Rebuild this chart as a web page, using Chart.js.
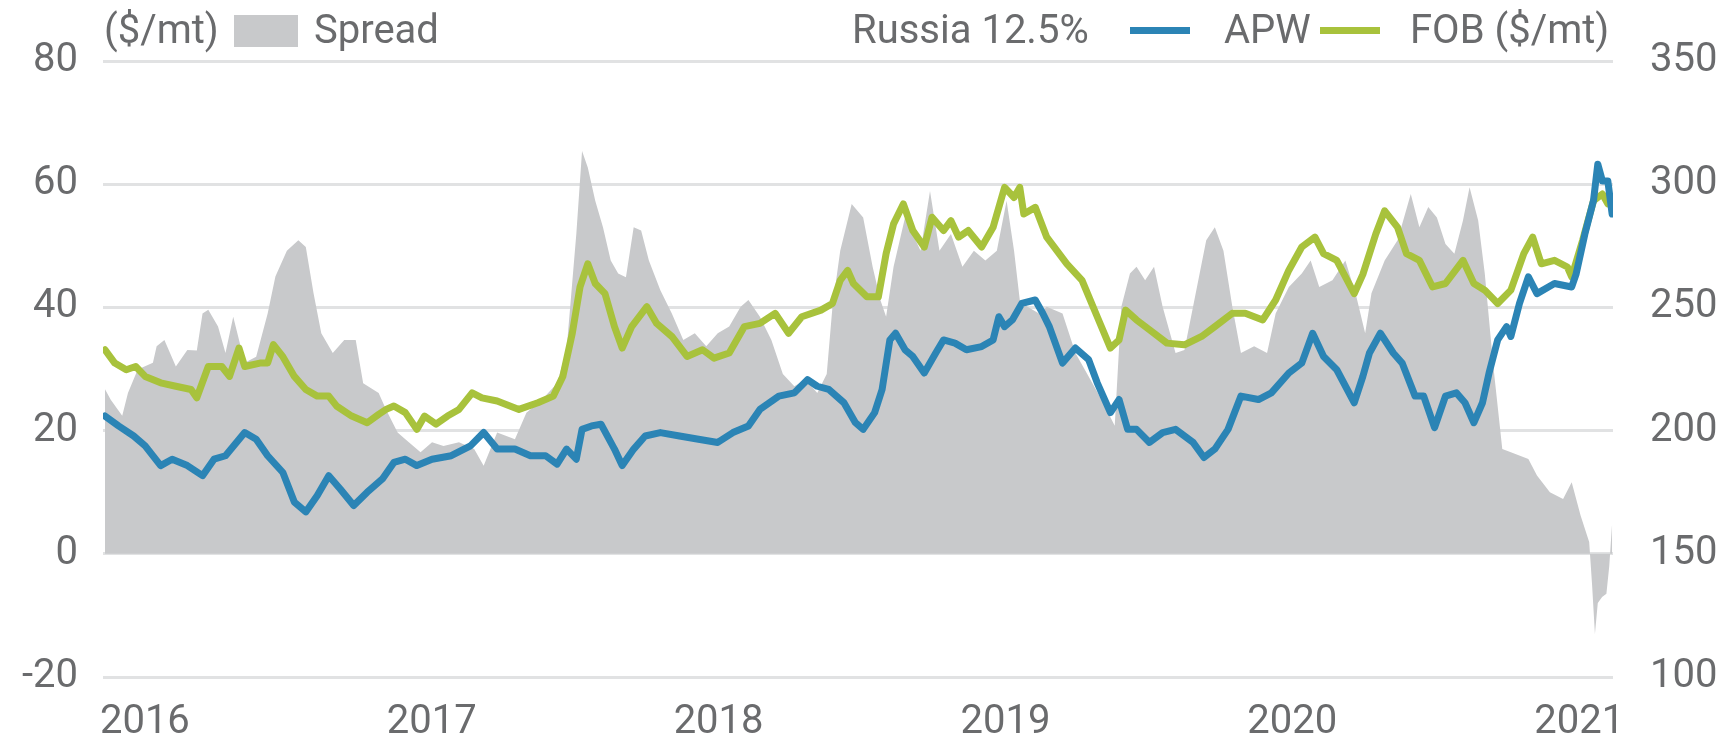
<!DOCTYPE html>
<html>
<head>
<meta charset="utf-8">
<script src="https://cdn.jsdelivr.net/npm/chart.js"></script>
<style>
  body { margin: 0; background: #fff; }
  #wrap { position: relative; width: 1733px; height: 737px; font-family: Roboto, sans-serif; color: #6a6b6d; }
  #myChart { position: absolute; left: 0; top: 0; }
  .lg { position: absolute; top: 8px; font-size: 40px; line-height: 44px; white-space: nowrap; }
  .sw { position: absolute; }
</style>
</head>
<body>
<div id="wrap">
  <canvas id="myChart" width="1733" height="737"></canvas>
  <span class="lg" style="left:104px">($/mt)</span>
  <span class="sw" style="left:234px;top:15px;width:64px;height:32px;background:#c8c9cb"></span>
  <span class="lg" style="left:314px">Spread</span>
  <span class="lg" style="left:852px">Russia 12.5%</span>
  <span class="sw" style="left:1130px;top:27px;width:60px;height:7px;background:#2b84b5"></span>
  <span class="lg" style="left:1224px">APW</span>
  <span class="sw" style="left:1320px;top:27px;width:60px;height:7px;background:#a8c23c"></span>
  <span class="lg" style="left:1410px">FOB ($/mt)</span>
</div>
<script>
const yearTicks = [2016, 2017, 2018, 2019, 2020, 2021];

const spreadDates = [2015.861, 2015.881, 2015.921, 2015.941, 2015.975, 2016.028, 2016.041, 2016.068, 2016.108, 2016.148,
  2016.181, 2016.201, 2016.221, 2016.255, 2016.281, 2016.308, 2016.348, 2016.388, 2016.428, 2016.455,
  2016.495, 2016.535, 2016.561, 2016.588, 2016.615, 2016.655, 2016.695, 2016.735, 2016.761, 2016.815,
  2016.841, 2016.881, 2016.908, 2016.961, 2017.001, 2017.041, 2017.095, 2017.148, 2017.181, 2017.228,
  2017.290, 2017.330, 2017.384, 2017.437, 2017.470, 2017.504, 2017.524, 2017.544, 2017.570, 2017.597,
  2017.624, 2017.650, 2017.677, 2017.704, 2017.730, 2017.757, 2017.797, 2017.837, 2017.877, 2017.917,
  2017.957, 2017.997, 2018.037, 2018.077, 2018.104, 2018.144, 2018.184, 2018.224, 2018.264, 2018.304,
  2018.344, 2018.377, 2018.397, 2018.424, 2018.464, 2018.504, 2018.537, 2018.564, 2018.584, 2018.610,
  2018.650, 2018.677, 2018.704, 2018.737, 2018.770, 2018.810, 2018.850, 2018.890, 2018.930, 2018.970,
  2019.004, 2019.030, 2019.050, 2019.077, 2019.117, 2019.144, 2019.199, 2019.244, 2019.290, 2019.335,
  2019.381, 2019.404, 2019.434, 2019.457, 2019.487, 2019.518, 2019.548, 2019.593, 2019.624, 2019.654,
  2019.700, 2019.730, 2019.760, 2019.791, 2019.821, 2019.867, 2019.912, 2019.942, 2019.988, 2020.033,
  2020.064, 2020.094, 2020.140, 2020.185, 2020.223, 2020.254, 2020.276, 2020.322, 2020.367, 2020.413,
  2020.443, 2020.474, 2020.504, 2020.534, 2020.565, 2020.595, 2020.618, 2020.648, 2020.671, 2020.701,
  2020.732, 2020.762, 2020.823, 2020.853, 2020.898, 2020.944, 2020.974, 2021.005, 2021.035, 2021.045,
  2021.055, 2021.065, 2021.080, 2021.095, 2021.105, 2021.115];
const spreadValues = [26.7, 25, 22.4, 26.1, 29.9, 31, 33.7, 34.7, 30.4, 33.1,
  33, 39, 39.6, 36.9, 32.6, 38.5, 31, 32, 39, 45,
  49.2, 50.9, 49.8, 42.3, 35.8, 32.6, 34.7, 34.7, 27.7, 26.1,
  23.4, 19.7, 18.6, 16.5, 18.1, 17.5, 18.1, 17, 14.3, 19.7,
  18.6, 22.9, 25, 27.7, 33.1, 51.9, 65.4, 62.7, 57.3, 53,
  47.6, 45.5, 44.9, 53, 52.5, 47.6, 42.8, 39, 34.7, 35.8,
  33.7, 35.8, 36.9, 40.1, 41.2, 38.5, 34.7, 29.2, 27.2, 28.3,
  26.1, 29.2, 40.1, 49.2, 56.8, 54.6, 46.6, 41.2, 38.5, 46.6,
  54.6, 51.9, 49.2, 58.9, 49.2, 51.9, 46.6, 49.2, 47.6, 49.2,
  57.3, 49.2, 41.2, 40.1, 39, 40.1, 39, 32.6, 28.8, 25,
  20.8, 40.1, 45.5, 46.6, 44.4, 46.6, 40.1, 32.6, 33.1, 40.1,
  50.9, 53, 49.2, 40.1, 32.6, 33.7, 32.6, 39, 43.3, 45.5,
  47.6, 43.3, 44.4, 47.6, 41.8, 35.8, 42.3, 47.6, 50.9, 58.4,
  53, 56.3, 54.6, 50.3, 48.7, 54.1, 59.5, 54.1, 45.5, 30.4,
  17, 16.5, 15.4, 12.7, 10, 8.9, 11.6, 6.2, 1.9, -5,
  -13, -8, -7, -6.5, -2, 5];

const fobDates = [2015.861, 2015.895, 2015.935, 2015.968, 2016.001, 2016.055, 2016.108, 2016.161, 2016.181, 2016.221,
  2016.268, 2016.295, 2016.328, 2016.348, 2016.401, 2016.428, 2016.448, 2016.481, 2016.521, 2016.561,
  2016.601, 2016.641, 2016.668, 2016.721, 2016.775, 2016.815, 2016.841, 2016.868, 2016.908, 2016.948,
  2016.975, 2017.015, 2017.055, 2017.095, 2017.141, 2017.175, 2017.228, 2017.304, 2017.370, 2017.424,
  2017.457, 2017.490, 2017.517, 2017.544, 2017.570, 2017.604, 2017.637, 2017.664, 2017.697, 2017.750,
  2017.784, 2017.837, 2017.890, 2017.944, 2017.984, 2018.037, 2018.090, 2018.144, 2018.197, 2018.244,
  2018.290, 2018.357, 2018.397, 2018.424, 2018.450, 2018.470, 2018.517, 2018.557, 2018.584, 2018.610,
  2018.644, 2018.677, 2018.717, 2018.744, 2018.784, 2018.810, 2018.837, 2018.870, 2018.917, 2018.957,
  2018.997, 2019.030, 2019.050, 2019.064, 2019.104, 2019.144, 2019.214, 2019.267, 2019.320, 2019.366,
  2019.396, 2019.419, 2019.457, 2019.502, 2019.563, 2019.624, 2019.684, 2019.730, 2019.791, 2019.836,
  2019.897, 2019.942, 2019.988, 2020.033, 2020.079, 2020.109, 2020.155, 2020.216, 2020.246, 2020.291,
  2020.322, 2020.367, 2020.398, 2020.443, 2020.489, 2020.534, 2020.595, 2020.633, 2020.671, 2020.716,
  2020.762, 2020.807, 2020.838, 2020.868, 2020.914, 2020.959, 2020.974, 2021.012, 2021.050, 2021.081,
  2021.100, 2021.115];
const fobPrices = [232.8, 227.4, 224.7, 226, 222, 219.4, 218, 216.7, 213.3, 226,
  226, 222, 233.5, 226, 227.4, 227.4, 234.9, 230, 222, 216.7,
  214, 214, 210, 205.9, 203.2, 206.6, 208.6, 210, 207.3, 200.5,
  205.9, 202.6, 205.9, 208.6, 215.3, 213.3, 212, 208.6, 211.3, 214,
  222, 239.5, 258.3, 267.7, 259.7, 255.6, 242.2, 233.5, 242.2, 250.3,
  243.5, 238.2, 230.1, 232.8, 229.4, 231.5, 242.2, 243.5, 247.6, 239.5,
  246.2, 248.9, 251.6, 261, 265, 259.7, 254.3, 254.3, 271.8, 283.9,
  292, 281.2, 274.5, 286.6, 281.2, 285.2, 278.5, 281.2, 274.5, 282.5,
  298.7, 294.6, 298.7, 287.9, 290.6, 278.5, 267.7, 261, 246.2, 233.5,
  236.8, 248.9, 244.9, 240.9, 235.5, 234.8, 238.2, 242.2, 247.6, 247.6,
  244.9, 253, 265.1, 274.5, 278.5, 271.8, 269.1, 255.6, 263.4, 279.8,
  289.2, 282.5, 271.8, 269.1, 258.3, 259.7, 269.1, 259.7, 257, 251.6,
  257, 271.8, 278.5, 267.7, 269.1, 266.4, 262.4, 277.2, 293.3, 296,
  292, 294.6];

const apwDates = [2015.861, 2015.908, 2015.961, 2016.001, 2016.055, 2016.095, 2016.148, 2016.201, 2016.241, 2016.281,
  2016.348, 2016.388, 2016.428, 2016.481, 2016.521, 2016.561, 2016.601, 2016.641, 2016.681, 2016.728,
  2016.775, 2016.828, 2016.868, 2016.908, 2016.948, 2017.001, 2017.068, 2017.135, 2017.181, 2017.228,
  2017.290, 2017.344, 2017.397, 2017.437, 2017.470, 2017.504, 2017.524, 2017.557, 2017.590, 2017.637,
  2017.664, 2017.704, 2017.744, 2017.797, 2017.864, 2017.930, 2017.997, 2018.050, 2018.104, 2018.144,
  2018.210, 2018.264, 2018.310, 2018.344, 2018.384, 2018.437, 2018.477, 2018.504, 2018.544, 2018.570,
  2018.597, 2018.617, 2018.650, 2018.677, 2018.717, 2018.757, 2018.784, 2018.824, 2018.864, 2018.917,
  2018.957, 2018.977, 2018.997, 2019.024, 2019.057, 2019.104, 2019.130, 2019.153, 2019.199, 2019.244,
  2019.290, 2019.320, 2019.366, 2019.396, 2019.426, 2019.457, 2019.502, 2019.548, 2019.593, 2019.654,
  2019.692, 2019.730, 2019.776, 2019.821, 2019.882, 2019.927, 2019.988, 2020.033, 2020.071, 2020.109,
  2020.155, 2020.216, 2020.246, 2020.269, 2020.307, 2020.352, 2020.383, 2020.428, 2020.458, 2020.496,
  2020.534, 2020.572, 2020.602, 2020.633, 2020.663, 2020.686, 2020.716, 2020.747, 2020.762, 2020.792,
  2020.823, 2020.853, 2020.914, 2020.974, 2020.989, 2021.020, 2021.050, 2021.065, 2021.081, 2021.100,
  2021.115];
const apwPrices = [205.9, 201.9, 197.8, 193.8, 185.8, 188.4, 185.8, 181.7, 188.4, 189.8,
  199.2, 196.5, 189.8, 183, 171, 167, 173.7, 181.7, 176.3, 169.6,
  175, 180.4, 187.1, 188.4, 185.8, 188.4, 189.8, 193.8, 199.2, 192.5,
  192.5, 189.8, 189.8, 186.4, 192.5, 188.4, 200.5, 201.9, 202.6, 192.5,
  185.8, 192.5, 197.8, 199.2, 197.8, 196.5, 195.2, 199.2, 201.9, 208.6,
  214, 215.3, 220.7, 218, 216.7, 211.3, 203.2, 200.5, 207.3, 216.7,
  236.8, 239.5, 232.8, 230.1, 223.4, 231.5, 236.8, 235.5, 232.8, 234.1,
  236.8, 246.2, 242.2, 244.9, 251.6, 253, 247.6, 242.2, 227.4, 233.5,
  228.8, 219.4, 207.3, 212.6, 200.5, 200.5, 195.2, 199.2, 200.5, 195.2,
  189.1, 192.5, 200.5, 214, 212.6, 215.3, 223.4, 227.4, 239.5, 230.1,
  224.7, 211.3, 222, 231.5, 239.5, 231.5, 227.4, 214, 214, 201.2,
  214, 215.3, 211.3, 203.2, 211.3, 223.4, 236.8, 242.2, 238.2, 251.6,
  262.4, 255.6, 259.7, 258.3, 263.4, 279.8, 293.3, 308.1, 301.3, 301.3,
  287.9];

const toPoints = (dates, values) => dates.map((d, i) => ({ x: d, y: values[i] }));

const textColor = '#6a6b6d';
const gridColor = '#e1e2e3';

const printTheChart = () => {
  const ctx = document.getElementById('myChart').getContext('2d');

  const chart = new Chart(ctx, {
    type: 'line',
    data: {
      datasets: [
        {
          label: 'APW',
          data: toPoints(apwDates, apwPrices),
          yAxisID: 'y1',
          borderColor: '#2b84b5',
          borderWidth: 7,
          pointRadius: 0,
          tension: 0,
          fill: false
        },
        {
          label: 'FOB',
          data: toPoints(fobDates, fobPrices),
          yAxisID: 'y1',
          borderColor: '#a8c23c',
          borderWidth: 7,
          pointRadius: 0,
          tension: 0,
          fill: false
        },
        {
          label: 'Spread',
          data: toPoints(spreadDates, spreadValues),
          yAxisID: 'y',
          borderWidth: 0,
          borderColor: 'rgba(0,0,0,0)',
          backgroundColor: '#c8c9cb',
          pointRadius: 0,
          tension: 0,
          fill: 'origin'
        }
      ]
    },
    options: {
      responsive: false,
      animation: false,
      devicePixelRatio: 1,
      layout: { padding: { top: 61, left: 0, right: 0, bottom: 0 } },
      plugins: { legend: { display: false }, tooltip: { enabled: false } },
      elements: { line: { borderJoinStyle: 'round', borderCapStyle: 'round' } },
      scales: {
        x: {
          type: 'linear',
          min: 2015.854,
          max: 2021.118,
          grid: { display: false },
          border: { display: false },
          afterBuildTicks: scale => {
            scale.ticks = yearTicks.map(v => ({ value: v }));
          },
          afterFit: scale => { scale.height = 60; },
          ticks: {
            autoSkip: false,
            maxRotation: 0,
            padding: 14,
            color: textColor,
            font: { family: 'Roboto', size: 40 },
            callback: value => String(value)
          }
        },
        y: {
          position: 'left',
          min: -20,
          max: 80,
          afterFit: scale => { scale.width = 103; },
          grid: { color: gridColor, lineWidth: 3, drawTicks: false },
          border: { display: false },
          ticks: {
            stepSize: 20,
            padding: 25,
            color: textColor,
            font: { family: 'Roboto', size: 40 }
          }
        },
        y1: {
          position: 'right',
          min: 100,
          max: 350,
          afterFit: scale => { scale.width = 120; },
          grid: { display: false },
          border: { display: false },
          ticks: {
            stepSize: 50,
            padding: 29,
            color: textColor,
            font: { family: 'Roboto', size: 40 }
          }
        }
      }
    }
  });
};

document.fonts.load('40px Roboto').then(printTheChart).catch(printTheChart);
</script>
</body>
</html>
